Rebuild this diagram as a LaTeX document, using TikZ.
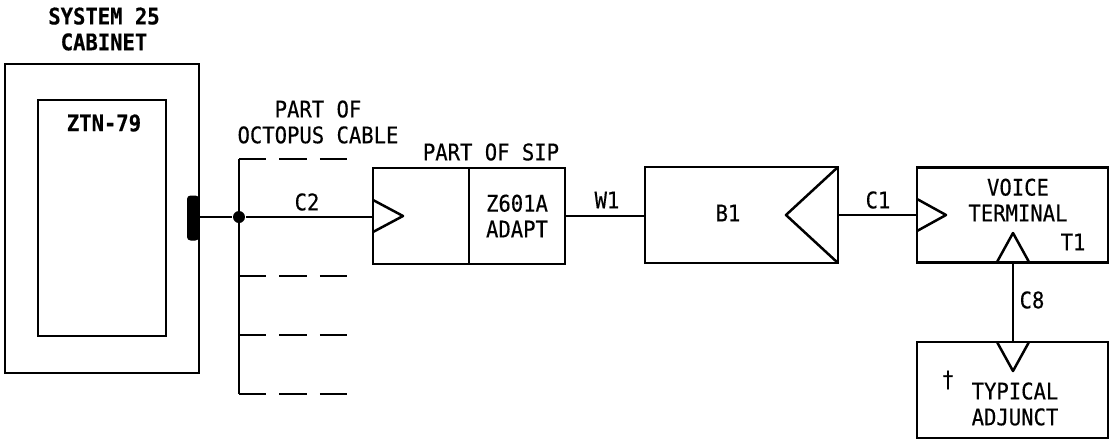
\documentclass[tikz,border=0pt]{standalone}
\usepackage{fontspec}
\setmonofont[FakeStretch=0.9,FakeBold=0.4]{DejaVu Sans Mono}
\usetikzlibrary{positioning,calc}

\begin{document}
\begin{tikzpicture}[
  x=0.02cm, y=-0.02cm,
  line width=0.05cm,
  box/.style={rectangle, draw=black, inner sep=0pt, outer sep=0pt,
              font=\fontsize{13}{14.7}\selectfont\ttfamily, align=center},
  lbl/.style={inner sep=0pt, outer sep=0pt, align=center,
              font=\fontsize{13}{14.7}\selectfont\ttfamily},
  blbl/.style={lbl, font=\fontsize{13}{14.7}\selectfont\ttfamily\bfseries},
  wire/.style={draw=black},
  stub/.style={draw=black, dash pattern=on 0.55cm off 0.26cm}
]
\useasboundingbox (0,0) rectangle (1110,440);

% Boxes
\node[box, minimum width=3.88cm, minimum height=6.18cm] (cabinet) at (102,218.5) {};
\node[box, minimum width=2.56cm, minimum height=4.72cm] (ztn)     at (102,218)   {};
\node[box, minimum width=1.92cm, minimum height=1.93cm] (sipin)   at (421,216)   {};
\node[box, minimum width=1.92cm, minimum height=1.93cm] (adapt)   at (517,216)   {Z601A\\ADAPT};
\node[box, minimum width=3.86cm, minimum height=1.92cm] (bone)    at (741.5,215) {};
\node[box, minimum width=3.82cm, minimum height=1.90cm] (term)    at (1012.5,215) {};
\node[box, minimum width=3.82cm, minimum height=1.92cm] (adjunct) at (1012.5,390) {};

% Plug and junction
\node[rectangle, rounded corners=2pt, fill=black, inner sep=0pt,
      minimum width=0.24cm, minimum height=0.90cm] (plug) at (193,218) {};
\node[circle, fill=black, inner sep=0pt, minimum size=0.24cm] (junction) at (239,217) {};

% Octopus cable
\coordinate (bustop) at (239,159);
\coordinate (busend) at (239,394);
\coordinate (buslow) at (239,276);
\coordinate (busmid) at (239,335);
\draw[wire] (bustop) -- (busend);
\draw[stub] (bustop) -- ++(109,0);
\draw[stub] (buslow) -- ++(109,0);
\draw[stub] (busmid) -- ++(109,0);
\draw[stub] (busend) -- ++(109,0);

% Connectors
\draw[wire] (plug.east |- junction) -- (junction);
\draw[wire] (junction) -- (junction -| sipin.west);
\draw[wire] (adapt.east) -- (adapt.east -| bone.west);
\draw[wire] (bone.east) -- (term.west);
\draw[wire] (term.south -| 1013,0) -- (adjunct.north -| 1013,0);

% Jack triangles
\draw[wire, line join=round] ($(sipin.west)+(0,-16)$) -- ++(30,16) -- ++(-30,16);
\draw[wire, line join=round] (bone.north east) -- ++(-52,48) -- (bone.south east);
\draw[wire, line join=round] ($(term.west)+(0,-16)$) -- ++(29,16) -- ++(-29,16);
\draw[wire, line join=round] (997,262) -- (1013,233) -- (1029,262);
\draw[wire, line join=round] (997,342) -- (1013,371) -- (1029,342);

% Labels
\node[blbl] (cablbl)  at (104,29)  {SYSTEM 25\\CABINET};
\node[blbl] (ztnlbl)  at (104,123) {ZTN-79};
\node[lbl]  (octlbl)  at (318,122) {PART OF\\OCTOPUS CABLE};
\node[lbl]  (sc2)     at (307,202) {C2};
\node[lbl]  (siplbl)  at (491,152) {PART OF SIP};
\node[lbl]  (sw1)     at (607,200) {W1};
\node[lbl]  (bonelbl) at (728,213) {B1};
\node[lbl]  (sc1)     at (878,200) {C1};
\node[lbl]  (termlbl) at (1018,200) {VOICE\\TERMINAL};
\node[lbl]  (st1)     at (1073,242) {T1};
\node[lbl]  (sc8)     at (1032,300) {C8};
\node[lbl]  (daglbl)  at (948,380) {†};
\node[lbl]  (adjlbl)  at (1015,404) {TYPICAL\\ADJUNCT};
\end{tikzpicture}
\end{document}
